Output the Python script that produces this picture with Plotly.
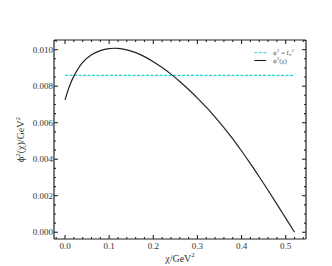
import plotly.graph_objects as go

chi = [0.00, 0.01, 0.02, 0.04, 0.06, 0.08, 0.10, 0.12, 0.14, 0.16, 0.18, 0.20,
       0.22, 0.24, 0.26, 0.28, 0.30, 0.32, 0.34, 0.36, 0.38, 0.40, 0.42, 0.44,
       0.46, 0.48, 0.50, 0.52]
phi2 = [0.00725, 0.00800, 0.00855, 0.00930, 0.00972, 0.00995, 0.01006, 0.01007,
        0.00999, 0.00984, 0.00962, 0.00934, 0.00902, 0.00866, 0.00826, 0.00782,
        0.00735, 0.00685, 0.00631, 0.00573, 0.00511, 0.00445, 0.00376, 0.00304,
        0.00230, 0.00154, 0.00077, 0.00000]
const_x = [0.0, 0.52]
const_y = [0.00859, 0.00859]

xticks = [0.0, 0.1, 0.2, 0.3, 0.4, 0.5]
yticks = [0.000, 0.002, 0.004, 0.006, 0.008, 0.010]
x_minor_step = 0.02
y_minor_step = 0.0005
x_range = [-0.025, 0.546]
y_range = [-0.00037, 0.01053]

legend_labels = ["ϕ<sup>2</sup> = f<sub>π</sub><sup>2</sup>", "ϕ<sup>2</sup>(χ)"]

font_family = "Liberation Serif, DejaVu Serif, serif"
cyan = "#22d3d3"
black = "#222222"

fig = go.Figure()
fig.add_trace(go.Scatter(x=const_x, y=const_y, mode="lines",
                         line=dict(color=cyan, width=1.1, dash="3px,1.5px"),
                         name=legend_labels[0], showlegend=False))
fig.add_trace(go.Scatter(x=chi, y=phi2, mode="lines", line_shape="spline",
                         line=dict(color=black, width=1.2),
                         name=legend_labels[1], showlegend=False))

fig.update_xaxes(range=x_range, tickvals=xticks,
                 ticktext=[f"{v:.1f}" for v in xticks],
                 showline=False, ticks="", showgrid=False, zeroline=False,
                 tickfont=dict(family=font_family, size=9, color="#333333"),
                 title=dict(text="χ/GeV<sup>2</sup>", font=dict(family=font_family, size=10, color="#333333"),
                            standoff=4))
fig.update_yaxes(range=y_range, tickvals=yticks,
                 ticktext=[f"{v:.3f}" for v in yticks],
                 showline=False, ticks="", showgrid=False, zeroline=False,
                 tickfont=dict(family=font_family, size=9, color="#333333"),
                 title=dict(text="ϕ<sup>2</sup>(χ)/GeV<sup>2</sup>", font=dict(family=font_family, size=10, color="#333333"),
                            standoff=6))

# frame drawn as four line shapes (same style as the legend sample lines)
frame_line = dict(color=black, width=1.2)
for x0, y0, x1, y1 in [(0, 0, 1, 0), (0, 1, 1, 1), (0, 0, 0, 1), (1, 0, 1, 1)]:
    fig.add_shape(type="line", xref="paper", yref="paper", x0=x0, y0=y0, x1=x1, y1=y1,
                  line=frame_line, layer="above")

# inside ticks on all four sides, positioned through the axis scales
maj_v, maj_h = 4 / 204, 4 / 257
min_v, min_h = 2 / 204, 2 / 257
tick_line = dict(color=black, width=1.1)

def x_tick(v, length):
    for y0, y1 in [(0, length), (1 - length, 1)]:
        fig.add_shape(type="line", xref="x", yref="paper", x0=v, x1=v, y0=y0, y1=y1,
                      line=tick_line, layer="above")

def y_tick(v, length):
    for x0, x1 in [(0, length), (1 - length, 1)]:
        fig.add_shape(type="line", xref="paper", yref="y", x0=x0, x1=x1, y0=v, y1=v,
                      line=tick_line, layer="above")

for v in xticks:
    x_tick(v, maj_v)
k = -1
while k * x_minor_step <= x_range[1]:
    v = round(k * x_minor_step, 6)
    if v >= x_range[0] and all(abs(v - t) > 1e-9 for t in xticks):
        x_tick(v, min_v)
    k += 1

for v in yticks:
    y_tick(v, maj_h)
k = 0
while k * y_minor_step <= y_range[1]:
    v = round(k * y_minor_step, 7)
    if all(abs(v - t) > 1e-9 for t in yticks):
        y_tick(v, min_h)
    k += 1

# compact legend
leg_y = [0.936, 0.897]
leg_dash = ["3px,1.5px", "solid"]
leg_col = [cyan, black]
for i in range(2):
    fig.add_shape(type="line", xref="paper", yref="paper",
                  x0=0.795, x1=0.842, y0=leg_y[i], y1=leg_y[i],
                  line=dict(color=leg_col[i], width=1.1, dash=leg_dash[i]))
    fig.add_annotation(xref="paper", yref="paper", x=0.86, y=leg_y[i],
                       xanchor="left", yanchor="middle", showarrow=False,
                       text=legend_labels[i],
                       font=dict(family=font_family, size=7, color="#555555"))

fig.update_layout(
    width=332, height=266,
    margin=dict(l=41, r=34, t=32, b=30),
    plot_bgcolor="white", paper_bgcolor="white",
    showlegend=False,
)

fig.write_html("out.html")
